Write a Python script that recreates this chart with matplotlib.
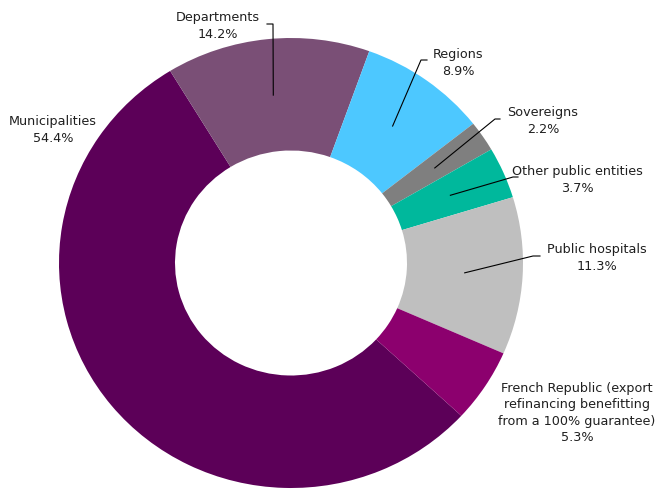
import numpy as np
import matplotlib
matplotlib.use("Agg")
import matplotlib.pyplot as plt
from matplotlib.lines import Line2D

# ── Data ──────────────────────────────────────────────────────────────────────
labels = ["Municipalities", "Departments", "Regions", "Sovereigns",
          "Other public entities", "Public hospitals",
          "French Republic (export\nrefinancing benefitting\nfrom a 100% guarantee)"]
shares = [54.4, 14.2, 8.9, 2.2, 3.7, 11.3, 5.3]
colors = ["#5c0058", "#7a4f76", "#4dc8ff", "#7f7f7f", "#00b89c", "#bfbfbf", "#8c006e"]

# ── Layout (figure pixels, origin top-left) ───────────────────────────────────
W, H, DPI = 660, 490, 100
TXT = "#1f1f1f"
FS = 9.2

# text block centre, leader elbow, leader end (None = no leader)
label_pos = [
    ((53, 130), None, None),
    ((218, 26), (273, 24), (267, 24)),
    ((458, 63), (421, 60), (427, 60)),
    ((543, 121), (495, 119), (500, 119)),
    ((577, 180), (513, 177), (518, 177)),
    ((597, 258), (533, 256), (540, 256)),
    ((577, 413), None, None),
]

fig = plt.figure(figsize=(W / DPI, H / DPI), dpi=DPI)
fig.patch.set_facecolor("white")
ax = fig.add_axes([59 / W, 2 / H, 464 / W, 450 / H])

wedges, _ = ax.pie(shares, colors=colors, startangle=317.24, counterclock=False,
                   radius=1.0, wedgeprops=dict(width=0.5, linewidth=0))
ax.set_aspect("auto")
ax.set_xlim(-1, 1)
ax.set_ylim(-1, 1)
ax.axis("off")

to_fig = fig.transFigure.inverted()


def px(x, y):
    return to_fig.transform((x, H - y))


for w, lab, val, (tc, elbow, end) in zip(wedges, labels, shares, label_pos):
    fx, fy = px(*tc)
    fig.text(fx, fy, f"{lab}\n{val:.1f}%", ha="center", va="center",
             multialignment="center", fontsize=FS, color=TXT, linespacing=1.33)
    if elbow is None:
        continue
    mid = np.deg2rad((w.theta1 + w.theta2) / 2)
    p0 = ax.transData.transform((0.75 * np.cos(mid), 0.75 * np.sin(mid)))
    p0 = to_fig.transform(p0)
    p1 = px(*elbow)
    p2 = px(*end)
    fig.add_artist(Line2D([p0[0], p1[0], p2[0]], [p0[1], p1[1], p2[1]],
                          transform=fig.transFigure, color="black", lw=0.8))

fig.savefig("out.png", dpi=DPI, facecolor="white")
